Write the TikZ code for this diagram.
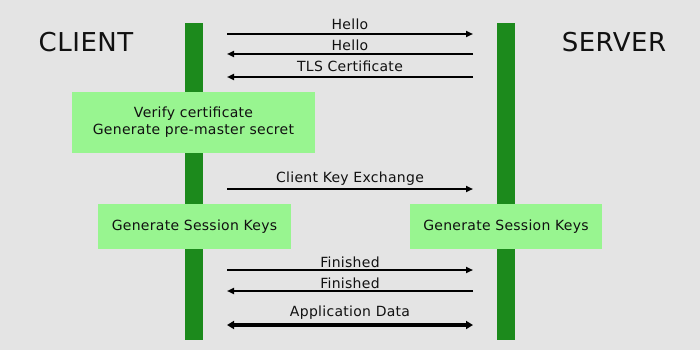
\documentclass[tikz,border=0pt]{standalone}
\usepackage{fontspec}
\setmainfont{DejaVu Sans}[LetterSpace=2]
\usetikzlibrary{arrows.meta}
\definecolor{bg}{HTML}{E4E4E4}
\definecolor{bar}{HTML}{1C8A1C}
\definecolor{boxg}{HTML}{98F590}
\definecolor{txt}{HTML}{111111}
\begin{document}
\begin{tikzpicture}[x=1pt,y=-1pt,
  lifeline/.style={fill=bar,draw=none},
  act/.style={fill=boxg,draw=none,inner sep=0pt,align=center,text=txt,font=\fontsize{14}{17}\selectfont},
  msg/.style={line width=1.8pt,draw=black,-{Triangle[length=7pt,width=6pt]}},
  bmsg/.style={line width=4pt,draw=black,{Triangle[length=7pt,width=8pt]}-{Triangle[length=7pt,width=8pt]}},
  lbl/.style={font=\fontsize{14}{15}\selectfont,text=txt,inner sep=0pt},
  party/.style={font=\fontsize{26}{28}\selectfont,text=txt,inner sep=0pt}]
\fill[bg] (0,0) rectangle (700,350);
\useasboundingbox (0,0) rectangle (700,350);
% lifelines
\fill[lifeline] (185,23) rectangle (203,340);
\fill[lifeline] (497,23) rectangle (515,340);
% parties
\node[party] (client) at (86,42) {CLIENT};
\node[party] (server) at (614,42) {SERVER};
% activity boxes
\node[act,minimum width=243pt,minimum height=61pt] (verify) at (193.5,122.5) {Verify certificate\\Generate pre-master secret};
\node[act,minimum width=193pt,minimum height=45pt] (skc) at (194.5,226.5) {Generate Session Keys};
\node[act,minimum width=192pt,minimum height=45pt] (sks) at (506,226.5) {Generate Session Keys};
% message endpoints
\foreach \n/\y in {a/34,b/54,c/77,d/189,e/270,f/291,g/325}{
  \coordinate (L\n) at (227,\y);
  \coordinate (R\n) at (473,\y);
}
\draw[msg] (La) -- (Ra);
\draw[msg] (Rb) -- (Lb);
\draw[msg] (Rc) -- (Lc);
\draw[msg] (Ld) -- (Rd);
\draw[msg] (Le) -- (Re);
\draw[msg] (Rf) -- (Lf);
\draw[bmsg] (Lg) -- (Rg);
% labels
\node[lbl] (l1) at (350,24) {Hello};
\node[lbl] (l2) at (350,45) {Hello};
\node[lbl] (l3) at (350,66) {TLS Certificate};
\node[lbl] (l4) at (350,179) {Client Key Exchange};
\node[lbl] (l5) at (350,262) {Finished};
\node[lbl] (l6) at (350,283) {Finished};
\node[lbl] (l7) at (350,313) {Application Data};
\end{tikzpicture}
\end{document}
